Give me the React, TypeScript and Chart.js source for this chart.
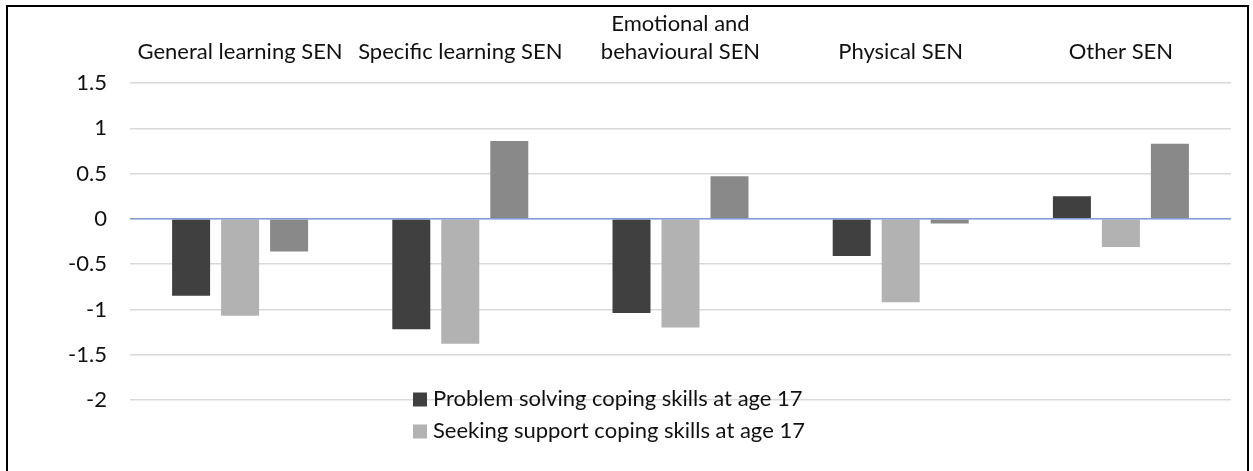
import React, { useEffect, useRef } from 'react';
import { Chart, registerables } from 'chart.js';

Chart.register(...registerables);

const categories: string[][] = [
  ['General learning SEN'],
  ['Specific learning SEN'],
  ['Emotional and', 'behavioural SEN'],
  ['Physical SEN'],
  ['Other SEN'],
];

const seriesLabels = [
  'Problem solving coping skills at age 17',
  'Seeking support coping skills at age 17',
  'Other coping measure',
];

const problemSolving = [-0.85, -1.22, -1.04, -0.41, 0.25];
const seekingSupport = [-1.07, -1.38, -1.2, -0.92, -0.31];
const otherMeasure = [-0.36, 0.86, 0.47, -0.05, 0.83];

const yTicks = [-2, -1.5, -1, -0.5, 0, 0.5, 1, 1.5];

const legendShown = [0, 1];

const colors = ['#404040', '#b2b2b2', '#898989'];

const FONT = 'Lato, "Open Sans", sans-serif';

const overlayPlugin = {
  id: 'overlay',
  afterDatasetsDraw(chart: any) {
    const { ctx, chartArea } = chart;
    const y = chart.scales.y.getPixelForValue(0);
    ctx.save();
    ctx.strokeStyle = '#7f9fd6';
    ctx.lineWidth = 1.5;
    ctx.beginPath();
    ctx.moveTo(chartArea.left, y);
    ctx.lineTo(chartArea.right, y);
    ctx.stroke();
    ctx.restore();
  },
  afterDraw(chart: any) {
    const { ctx, chartArea } = chart;
    const baseY = chart.scales.y.getPixelForValue(yTicks[0]);
    const x0 = chartArea.left + 283;
    ctx.save();
    ctx.font = `22px ${FONT}`;
    ctx.textBaseline = 'middle';
    ctx.textAlign = 'left';
    legendShown.forEach((i, row) => {
      const cy = baseY - 1 + row * 32;
      ctx.fillStyle = colors[i];
      ctx.fillRect(x0, cy - 6.5, 14, 14);
      ctx.fillStyle = '#111';
      ctx.fillText(seriesLabels[i], x0 + 20, cy);
    });
    ctx.restore();
  },
};

export default function App() {
  const ref = useRef<HTMLCanvasElement>(null);
  useEffect(() => {
    if (!ref.current) return;
    const chart = new Chart(ref.current, {
      type: 'bar',
      data: {
        labels: categories,
        datasets: [problemSolving, seekingSupport, otherMeasure].map((d, i) => ({
          label: seriesLabels[i],
          data: d,
          backgroundColor: colors[i],
          borderWidth: 0,
          categoryPercentage: 0.6676,
          barPercentage: 0.7755,
        })),
      },
      options: {
        animation: false,
        responsive: false,
        maintainAspectRatio: false,
        layout: { padding: { left: 0, right: 22, top: 0, bottom: 71 } },
        plugins: {
          legend: { display: false },
          tooltip: { enabled: false },
          title: { display: false },
        },
        scales: {
          x: {
            position: 'top',
            grid: { display: false, drawTicks: false },
            border: { display: false },
            ticks: {
              color: '#111',
              font: { family: FONT, size: 22, lineHeight: 1.27 },
              padding: 17,
              maxRotation: 0,
              autoSkip: false,
            },
            afterFit(scale: any) {
              scale.height = 83;
            },
          },
          y: {
            min: -2,
            max: 1.5,
            grid: { color: '#d9d9d9', lineWidth: 1.5, drawTicks: false },
            border: { display: false },
            afterBuildTicks(scale: any) {
              scale.ticks = yTicks.map((v) => ({ value: v }));
            },
            ticks: {
              color: '#111',
              font: { family: FONT, size: 22 },
              padding: 23,
              callback: (v: any) => String(v),
            },
            afterFit(scale: any) {
              scale.width = 130;
            },
          },
        },
      },
      plugins: [overlayPlugin],
    });
    return () => chart.destroy();
  }, []);

  return (
    <div style={{ position: 'fixed', left: 0, top: 0, width: 1253, height: 471, background: '#fff', overflow: 'hidden' }}>
      <canvas ref={ref} width={1253} height={471} style={{ position: 'absolute', left: 0, top: 0 }} />
      <div
        style={{
          position: 'absolute',
          left: 6,
          top: 5,
          width: 1243,
          height: 520,
          boxSizing: 'border-box',
          border: '2px solid #000',
          pointerEvents: 'none',
        }}
      />
    </div>
  );
}
